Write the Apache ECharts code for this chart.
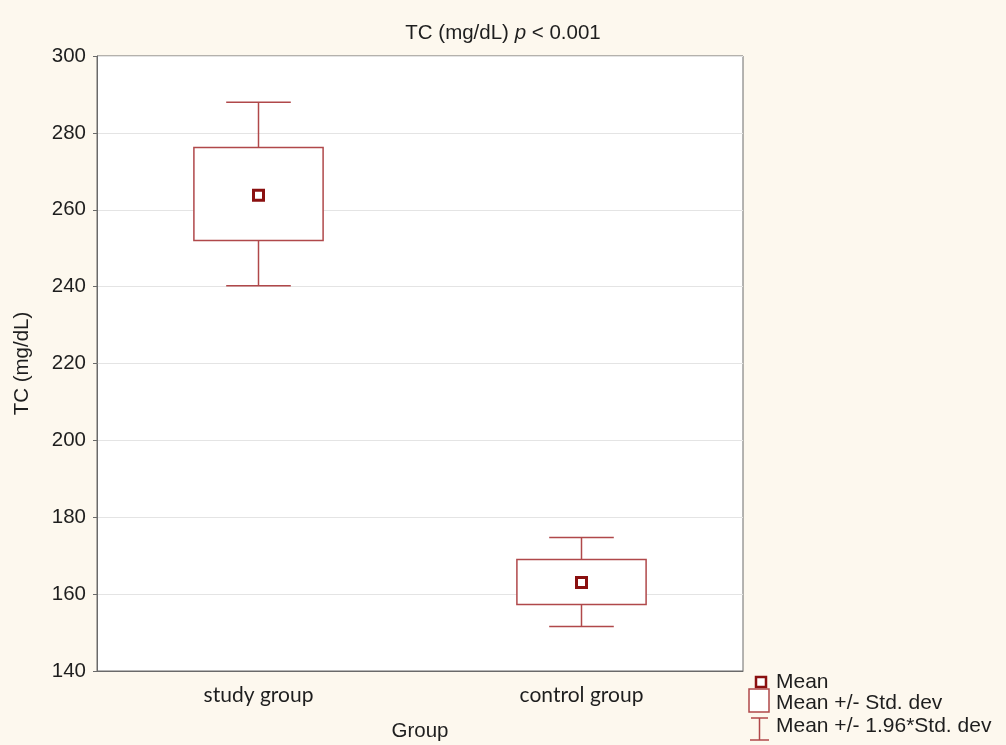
<!DOCTYPE html>
<html>
<head>
<meta charset="utf-8">
<script src="https://cdn.jsdelivr.net/npm/echarts@6/dist/echarts.min.js"></script>
<style>
  html, body { margin: 0; padding: 0; background: #fdf8ee; }
  #chart { width: 1006px; height: 745px; }
</style>
</head>
<body>
<div id="chart"></div>
<script>
// Group summaries for total cholesterol (mg/dL)
const groups = ['study group', 'control group'];
const whiskerLow = [240.2, 151.6];   // mean - 1.96*SD
const sdLow = [252.0, 157.3];        // mean - SD
const means = [263.8, 163.0];        // mean
const sdHigh = [276.2, 169.0];       // mean + SD
const whiskerHigh = [288.0, 174.7];  // mean + 1.96*SD

const yMin = 140, yMax = 300, yStep = 20;

const boxColor = '#b0484a';
const meanColor = '#8a1010';
const textColor = '#1e1e1e';
const sans = 'Liberation Sans, Arial, sans-serif';

const boxData = groups.map((g, i) => [i, whiskerLow[i], sdLow[i], sdHigh[i], whiskerHigh[i]]);
const meanData = groups.map((g, i) => [i, means[i]]);

function renderBox(params, api) {
  const i = api.value(0);
  const wl = api.coord([i, api.value(1)]);
  const bl = api.coord([i, api.value(2)]);
  const bh = api.coord([i, api.value(3)]);
  const wh = api.coord([i, api.value(4)]);
  const band = api.size([1, 0])[0];
  const bw = band * 0.4;
  const cw = band * 0.2;
  const cx = wl[0];
  const st = { stroke: boxColor, lineWidth: 1.5, fill: null };
  return {
    type: 'group',
    children: [
      { type: 'line', shape: { x1: cx, y1: wh[1], x2: cx, y2: bh[1] }, style: st },
      { type: 'line', shape: { x1: cx - cw / 2, y1: wh[1], x2: cx + cw / 2, y2: wh[1] }, style: st },
      { type: 'line', shape: { x1: cx, y1: bl[1], x2: cx, y2: wl[1] }, style: st },
      { type: 'line', shape: { x1: cx - cw / 2, y1: wl[1], x2: cx + cw / 2, y2: wl[1] }, style: st },
      { type: 'rect', shape: { x: cx - bw / 2, y: bh[1], width: bw, height: bl[1] - bh[1] },
        style: { stroke: boxColor, lineWidth: 1.5, fill: '#ffffff' } }
    ]
  };
}

// Legend icons and labels, bottom right
const lx = 749;
const legendGraphics = [
  { type: 'rect', shape: { x: lx + 7, y: 677, width: 10, height: 10 },
    style: { fill: '#ffffff', stroke: meanColor, lineWidth: 2.5 } },
  { type: 'text', x: 776, y: 682, style: { text: 'Mean', font: '21px ' + sans, fill: textColor, verticalAlign: 'middle' } },
  { type: 'rect', shape: { x: lx, y: 689, width: 20, height: 23 },
    style: { fill: '#ffffff', stroke: boxColor, lineWidth: 1.5 } },
  { type: 'text', x: 776, y: 703, style: { text: 'Mean +/- Std. dev', font: '21px ' + sans, fill: textColor, verticalAlign: 'middle' } },
  { type: 'line', shape: { x1: lx + 2, y1: 718, x2: lx + 19, y2: 718 }, style: { stroke: boxColor, lineWidth: 1.5 } },
  { type: 'line', shape: { x1: lx + 10.5, y1: 718, x2: lx + 10.5, y2: 740 }, style: { stroke: boxColor, lineWidth: 1.5 } },
  { type: 'line', shape: { x1: lx + 1, y1: 740, x2: lx + 20, y2: 740 }, style: { stroke: boxColor, lineWidth: 1.5 } },
  { type: 'text', x: 776, y: 726, style: { text: 'Mean +/- 1.96*Std. dev', font: '21px ' + sans, fill: textColor, verticalAlign: 'middle' } }
];

const chart = echarts.init(document.getElementById('chart'), null, { renderer: 'canvas' });
chart.setOption({
  backgroundColor: '#fdf8ee',
  animation: false,
  title: {
    left: 'center',
    top: 18,
    text: '{n|TC (mg/dL) }{p|p}{n| < 0.001}',
    textStyle: {
      fontWeight: 'normal',
      rich: {
        n: { fontFamily: sans, fontSize: 20.5, color: textColor, fontWeight: 'normal' },
        p: { fontFamily: sans, fontSize: 20.5, color: textColor, fontWeight: 'normal', fontStyle: 'italic' }
      }
    }
  },
  grid: {
    left: 97, right: 263, top: 56, bottom: 74,
    containLabel: false,
    outerBoundsMode: 'none',
    show: true, backgroundColor: '#ffffff', borderColor: '#6a6a6a', borderWidth: 1
  },
  xAxis: {
    type: 'category',
    data: groups,
    boundaryGap: true,
    name: 'Group',
    nameLocation: 'middle',
    nameGap: 50,
    nameTextStyle: { fontFamily: sans, fontSize: 20.5, color: textColor },
    axisLine: { lineStyle: { color: '#6a6a6a' } },
    axisTick: { alignWithLabel: true, length: 4, lineStyle: { color: '#6a6a6a' } },
    axisLabel: { fontFamily: 'Lato, Open Sans, sans-serif', fontSize: 21, color: textColor, margin: 14 },
    splitLine: { show: false }
  },
  yAxis: {
    type: 'value',
    min: yMin, max: yMax, interval: yStep,
    name: 'TC (mg/dL)',
    nameLocation: 'middle',
    nameGap: 64,
    nameTextStyle: { fontFamily: sans, fontSize: 20.5, color: textColor },
    axisLine: { show: true, lineStyle: { color: '#6a6a6a' } },
    axisTick: { show: true, length: 4, lineStyle: { color: '#6a6a6a' } },
    axisLabel: { fontFamily: sans, fontSize: 20.5, color: textColor, margin: 11 },
    splitLine: { show: true, lineStyle: { color: '#e4e4e4', width: 1 } }
  },
  series: [
    {
      type: 'custom',
      renderItem: renderBox,
      data: boxData,
      encode: { x: 0, y: [1, 2, 3, 4] },
      z: 2
    },
    {
      type: 'scatter',
      data: meanData,
      symbol: 'rect',
      symbolSize: 10,
      itemStyle: { color: '#ffffff', borderColor: meanColor, borderWidth: 3, opacity: 1 },
      z: 3
    }
  ],
  graphic: legendGraphics
});
</script>
</body>
</html>
